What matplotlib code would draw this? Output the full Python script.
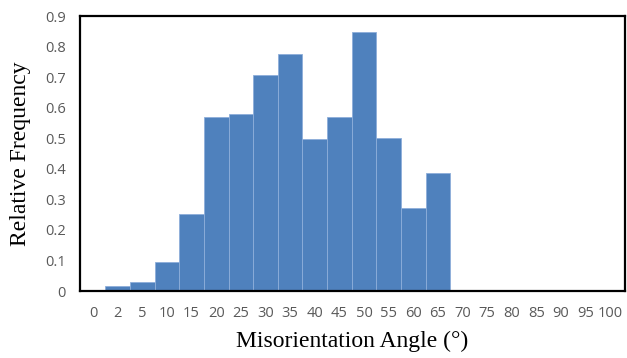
import matplotlib
matplotlib.use("Agg")
import matplotlib.pyplot as plt

# bin labels shown on the x axis
angle_labels = ['0', '2', '5', '10', '15', '20', '25', '30', '35', '40', '45',
                '50', '55', '60', '65', '70', '75', '80', '85', '90', '95', '100']
# relative frequency per bin (0 and 70..100 are empty)
frequency = [0, 0.017, 0.030, 0.094, 0.251, 0.569, 0.578, 0.706, 0.777, 0.499,
             0.569, 0.847, 0.50, 0.271, 0.387, 0, 0, 0, 0, 0, 0, 0]
y_ticks = [0, 0.1, 0.2, 0.3, 0.4, 0.5, 0.6, 0.7, 0.8, 0.9]
y_tick_labels = ['0', '0.1', '0.2', '0.3', '0.4', '0.5', '0.6', '0.7', '0.8', '0.9']

fig = plt.figure(figsize=(6.27, 3.58), dpi=100)
ax = fig.add_axes([0.1276, 0.187, 0.8692, 0.768])

x = range(len(angle_labels))
ax.bar(x, frequency, width=1.0, color='#4F81BD', edgecolor='#8DAEDA', linewidth=0.6)

ax.set_xlim(-0.53, 21.6)
ax.set_ylim(0, 0.9)
ax.set_xticks(list(x))
ax.set_xticklabels(angle_labels)
ax.set_yticks(y_ticks)
ax.set_yticklabels(y_tick_labels)
ax.tick_params(axis='x', length=0, labelsize=10.5, labelcolor='#595959', pad=11)
ax.tick_params(axis='y', length=0, labelsize=10.5, labelcolor='#595959', pad=10)
for lbl in ax.get_xticklabels() + ax.get_yticklabels():
    lbl.set_family('Open Sans')

for s in ax.spines.values():
    s.set_linewidth(1.6)
    s.set_color('black')

ax.set_xlabel('Misorientation Angle (°)', family='Liberation Serif', fontsize=17, labelpad=7)
ax.set_ylabel('Relative Frequency', family='Liberation Serif', fontsize=17, labelpad=10)

plt.savefig('out.png', dpi=100)
